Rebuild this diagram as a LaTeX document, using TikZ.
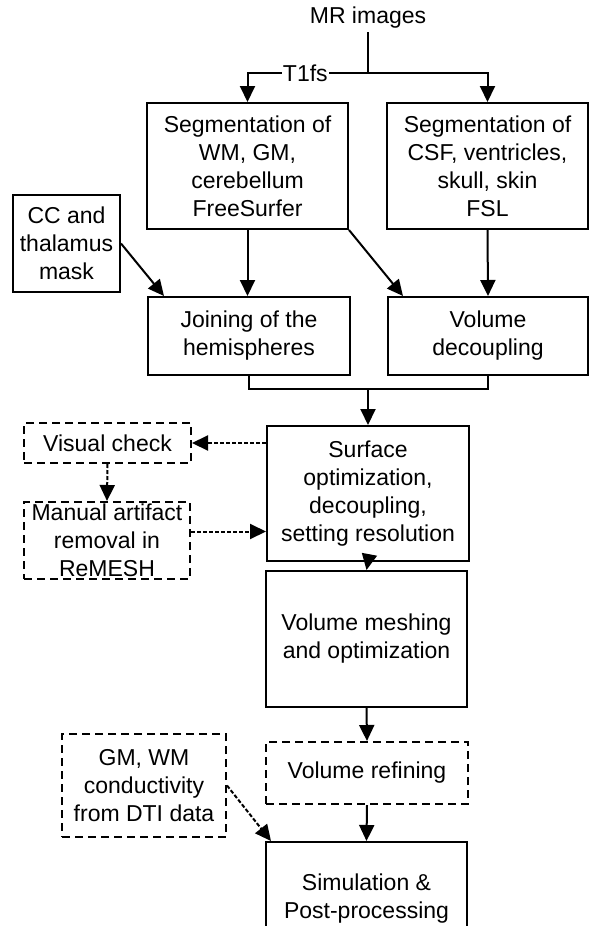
\documentclass[tikz,border=0pt]{standalone}
\usepackage{fontspec}
\setmainfont{Liberation Sans}
\usetikzlibrary{arrows.meta}

\begin{document}
\begin{tikzpicture}[x=1pt,y=-1pt,
  every node/.style={font=\fontsize{23}{28}\selectfont},
  box/.style={draw,line width=2pt,align=center,inner sep=0pt},
  dbox/.style={box,dash pattern=on 8pt off 5pt},
  arr/.style={line width=2pt,-{Triangle[length=16pt,width=15pt]}},
  darr/.style={arr,dash pattern=on 4pt off 2pt}]
%\draw[help lines,step=50] (0,0) grid (589,926);
\useasboundingbox (0,0) rectangle (589,926);

\node (mr) at (368,18) {MR images};
\coordinate (split) at (368,73);
\coordinate (merge) at (368,389);

\node[box,minimum width=201,minimum height=126] (segfs) at (247.5,166) {Segmentation of\\WM, GM,\\cerebellum\\FreeSurfer};
\node[box,minimum width=201,minimum height=126] (segfsl) at (487.5,166) {Segmentation of\\CSF, ventricles,\\skull, skin\\FSL};
\node[box,minimum width=107,minimum height=97] (cc) at (66.5,243.5) {CC and\\thalamus\\mask};
\node[box,minimum width=202,minimum height=78] (join) at (249,336) {Joining of the\\hemispheres};
\node[box,minimum width=200,minimum height=78] (decouple) at (488,336) {Volume\\decoupling};
\node[box,minimum width=202,minimum height=135] (surf) at (368,493.5) {Surface\\optimization,\\decoupling,\\setting resolution};
\node[dbox,minimum width=167,minimum height=40] (visual) at (107.5,443) {Visual check};
\node[dbox,minimum width=166,minimum height=77] (manual) at (107,540.5) {Manual artifact\\removal in\\ReMESH};
\node[box,minimum width=201,minimum height=136] (mesh) at (366.5,639) {Volume meshing\\and optimization};
\node[dbox,minimum width=202,minimum height=62] (refine) at (367,773) {Volume refining};
\node[dbox,minimum width=164,minimum height=103] (gmwm) at (144,785.5) {GM, WM\\conductivity\\from DTI data};
\node[box,minimum width=201,minimum height=114] (sim) at (366.5,899) {Simulation \&\\Post-processing};

\draw[line width=2pt] (mr) -- (split);
\draw[arr] (split) -| node[pos=0.26,fill=white,inner sep=1pt] {T1fs} (segfs.north);
\draw[arr] (split) -| (segfsl.north);

\draw[arr] (segfs.south) -- (segfs.south |- join.north);
\draw[arr] (segfs.south east) -- ([xshift=16pt]decouple.north west);
\draw[arr] (cc.east) -- ([xshift=17pt]join.north west);
\draw[arr] (segfsl.south) -- (decouple.north);

\draw[line width=2pt] (join.south) |- (merge) -| (decouple.south);
\draw[arr] (merge) -- (surf.north);

\draw[darr] (surf.west |- visual.east) -- (visual.east);
\draw[darr] (visual.south) -- (manual.north);
\draw[darr] ([yshift=9pt]manual.east) -- ([yshift=9pt]manual.east -| surf.west);

\draw[arr] (surf.south) -- (mesh.north);
\draw[arr] (mesh.south) -- (refine.north);
\draw[arr] (refine.south) -- (sim.north);
\draw[darr] (gmwm.east) -- ([xshift=6pt]sim.north west);
\end{tikzpicture}
\end{document}
